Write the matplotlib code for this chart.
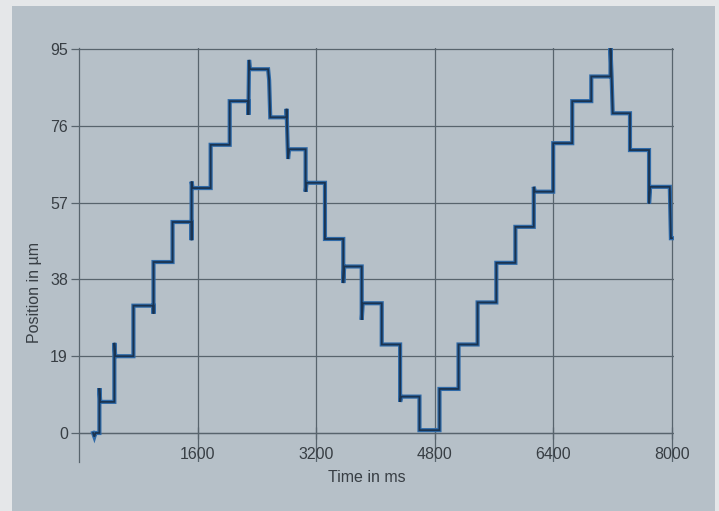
import matplotlib
matplotlib.use('Agg')
import matplotlib.pyplot as plt
from matplotlib.patches import Rectangle

# stair-step position trace (ms, µm)
time_ms = [190, 207, 222, 275, 275, 287, 477, 477, 489, 734, 734, 1005, 1005, 1005,
           1262, 1262, 1519, 1519, 1519, 1532, 1776, 1776, 2033, 2033, 2285, 2285,
           2294, 2306, 2551, 2565, 2580, 2800, 2800, 2820, 2835, 3057, 3057, 3070,
           3318, 3318, 3565, 3565, 3578, 3814, 3814, 3828, 4084, 4084, 4332, 4332,
           4345, 4593, 4593, 4863, 4863, 5120, 5120, 5377, 5377, 5630, 5630, 5887,
           5887, 6135, 6135, 6150, 6397, 6397, 6654, 6654, 6911, 6911, 7170, 7170,
           7185, 7200, 7433, 7433, 7690, 7690, 7705, 7970, 7985, 8000]
pos_um = [0, -0.9, 0, 0, 11.1, 7.7, 7.7, 22.3, 19.0, 19.0, 31.5, 31.5, 29.5, 42.3,
          42.3, 52.2, 52.2, 47.7, 62.2, 60.6, 60.6, 71.3, 71.3, 82.1, 82.1, 78.7,
          92.3, 90.0, 90.0, 87.3, 78.1, 78.1, 80.2, 67.8, 70.2, 70.2, 59.7, 61.9,
          61.9, 48.0, 48.0, 37.1, 41.2, 41.2, 28.0, 32.1, 32.1, 21.9, 21.9, 7.7,
          9.0, 9.0, 0.7, 0.7, 10.9, 10.9, 21.9, 21.9, 32.3, 32.3, 42.1, 42.1,
          51.0, 51.0, 60.9, 59.7, 59.7, 71.7, 71.7, 82.1, 82.1, 88.2, 88.2, 95.2,
          88.2, 79.1, 79.1, 70.0, 70.0, 56.8, 60.9, 60.9, 48.2, 48.2]

x_ticks = [1600, 3200, 4800, 6400, 8000]
y_ticks = [0, 19, 38, 57, 76, 95]

plt.rcParams['font.family'] = ['Liberation Sans', 'DejaVu Sans']
txt_col = '#383e44'
grid_col = '#58646d'

fig = plt.figure(figsize=(7.19, 5.11), dpi=100, facecolor='#e5e7e9')
fig.patches.append(Rectangle((12 / 719, 0), 703 / 719, 1 - 6 / 511,
                             transform=fig.transFigure, facecolor='#b6c0c8',
                             edgecolor='none', zorder=-10))

ax = fig.add_axes([79 / 719, 1 - 462.1 / 511, 594.5 / 719, 413.9 / 511])
ax.set_facecolor('none')

ax.plot(time_ms, pos_um, color='#2f6aa8', lw=3.0, solid_joinstyle='miter', zorder=3)
ax.plot(time_ms, pos_um, color='#1a3350', lw=1.3, solid_joinstyle='miter', zorder=4)

ax.set_xlim(0, 8020)
ax.set_ylim(-7.2, 95.2)
ax.set_xticks(x_ticks)
ax.set_yticks(y_ticks)
ax.grid(True, color=grid_col, lw=0.9)
ax.set_axisbelow(True)

for s in ['top', 'right']:
    ax.spines[s].set_visible(False)
ax.spines['bottom'].set_position(('data', 0))
ax.spines['bottom'].set_bounds(0, 8000)
ax.spines['bottom'].set_color(grid_col)
ax.spines['left'].set_color(grid_col)
ax.spines['bottom'].set_linewidth(0.9)
ax.spines['left'].set_linewidth(0.9)

ax.tick_params(axis='x', direction='inout', length=8, width=0.9, color=grid_col,
               labelsize=11.5, labelcolor=txt_col, pad=6)
ax.tick_params(axis='y', direction='out', length=6, width=0.9, color=grid_col,
               labelsize=11.5, labelcolor=txt_col, pad=2)

ax.set_xlabel('Time in ms', fontsize=11.5, color=txt_col)
ax.xaxis.set_label_coords(0.484, -0.02)
ax.set_ylabel('Position in µm', fontsize=11.5, color=txt_col)
ax.yaxis.set_label_coords(-0.063, 0.41)

fig.savefig('out.png', dpi=100, facecolor=fig.get_facecolor())
